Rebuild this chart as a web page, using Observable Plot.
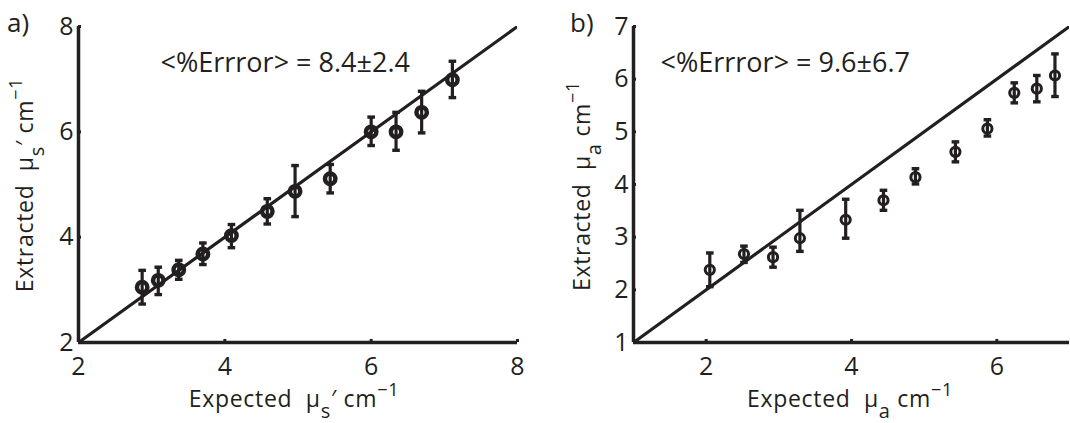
<!DOCTYPE html>
<html>
<head>
<meta charset="utf-8">
<script src="https://cdn.jsdelivr.net/npm/d3@7"></script>
<script src="https://cdn.jsdelivr.net/npm/@observablehq/plot@0.6"></script>
<style>
  html, body { margin: 0; padding: 0; background: #fff; }
  #wrap { display: flex; flex-direction: row; width: 1070px; height: 423px; overflow: hidden; }
  svg { font-family: "Open Sans", sans-serif; color: #231f20; }
</style>
</head>
<body>
<div id="wrap"></div>
<script>
// ---------- Panel a) reduced scattering ----------
const expectedMus = [2.87, 3.09, 3.37, 3.70, 4.09, 4.58, 4.96, 5.44, 6.00, 6.34, 6.69, 7.11];
const extractedMus = [3.05, 3.18, 3.38, 3.68, 4.03, 4.49, 4.87, 5.11, 6.00, 6.00, 6.37, 6.99];
const extractedMusLow = [2.73, 2.91, 3.20, 3.48, 3.80, 4.25, 4.39, 4.84, 5.74, 5.65, 5.98, 6.65];
const extractedMusHigh = [3.37, 3.43, 3.56, 3.89, 4.24, 4.73, 5.36, 5.38, 6.28, 6.37, 6.77, 7.34];
const musDomain = [2, 8];
const musTicks = [2, 4, 6, 8];
const musAnnotation = "<%Errror> = 8.4\u00b12.4";

// ---------- Panel b) absorption ----------
const expectedMua = [2.05, 2.52, 2.92, 3.29, 3.92, 4.44, 4.88, 5.43, 5.87, 6.24, 6.55, 6.80];
const extractedMua = [2.38, 2.68, 2.62, 2.98, 3.33, 3.70, 4.14, 4.62, 5.06, 5.74, 5.82, 6.07];
const extractedMuaLow = [2.06, 2.52, 2.43, 2.73, 2.98, 3.51, 4.01, 4.43, 4.92, 5.55, 5.57, 5.67];
const extractedMuaHigh = [2.70, 2.83, 2.81, 3.51, 3.72, 3.89, 4.30, 4.81, 5.23, 5.93, 6.07, 6.48];
const muaDomain = [1, 7];
const muaXTicks = [2, 4, 6];
const muaYTicks = [1, 2, 3, 4, 5, 6, 7];
const muaAnnotation = "<%Errror> = 9.6\u00b16.7";

const INK = "#231f20";
const FONT = "'Open Sans', sans-serif";

// horizontal cap symbol for error bars
const capSymbol = {
  draw(context, size) {
    const w = Math.sqrt(size / Math.PI);
    context.moveTo(-w, 0);
    context.lineTo(w, 0);
  }
};

function rows(xs, ys, lo, hi) {
  return xs.map((x, i) => ({x, y: ys[i], lo: lo[i], hi: hi[i]}));
}

function panel({data, xDomain, yDomain, xTicks, yTicks, annotation, width, marginLeft, marginRight, annDx, r, sw}) {
  const identity = [xDomain[0], xDomain[1]];
  return Plot.plot({
    width, height: 423,
    marginLeft, marginRight, marginTop: 26, marginBottom: 81,
    style: {fontFamily: FONT, color: INK, overflow: "visible"},
    x: {domain: xDomain},
    y: {domain: yDomain},
    marks: [
      Plot.line(identity, {x: d => d, y: d => d, stroke: INK, strokeWidth: 3.2, clip: true}),
      Plot.ruleX(data, {x: "x", y1: "lo", y2: "hi", stroke: INK, strokeWidth: 3.2}),
      Plot.dot(data, {x: "x", y: "lo", symbol: capSymbol, r: 3.8, stroke: INK, strokeWidth: 3.4}),
      Plot.dot(data, {x: "x", y: "hi", symbol: capSymbol, r: 3.8, stroke: INK, strokeWidth: 3.4}),
      Plot.dot(data, {x: "x", y: "y", r, fill: "none", stroke: INK, strokeWidth: sw}),
      Plot.ruleX([xDomain[0]], {y1: yDomain[0], y2: yDomain[1], stroke: INK, strokeWidth: 3.5}),
      Plot.ruleY([yDomain[0]], {x1: xDomain[0], x2: xDomain[1], stroke: INK, strokeWidth: 3.5}),
      Plot.axisX({ticks: xTicks, tickFormat: d => d, tickSize: -3, tickPadding: 18, strokeWidth: 3, stroke: INK, fill: INK, fontSize: 25, label: null}),
      Plot.axisY({ticks: yTicks, tickFormat: d => d, tickSize: -3, tickPadding: 8, strokeWidth: 3, stroke: INK, fill: INK, fontSize: 25, label: null}),
      Plot.text([annotation], {text: d => d, frameAnchor: "top-left", textAnchor: "start", lineAnchor: "middle", dx: annDx, dy: 37, fontSize: 27, fill: INK, style: "letter-spacing:1.9px"})
    ]
  });
}

function addLabels(svg, {tag, tagX, xLabel, yLabel, yLabelX, xCenter, yCenter}) {
  const s = d3.select(svg);
  s.append("text").attr("x", tagX).attr("y", 32).attr("font-size", 26).attr("fill", INK)
    .attr("text-anchor", "start").attr("font-family", FONT).text(tag);
  // x label
  const xt = s.append("text").attr("x", xCenter).attr("y", 407).attr("text-anchor", "middle")
    .attr("font-size", 23).attr("fill", INK).attr("font-family", FONT).style("letter-spacing", "0.7px");
  buildLabel(xt, xLabel);
  // y label
  const yt = s.append("text").attr("transform", `translate(${yLabelX},${yCenter}) rotate(-90)`)
    .attr("text-anchor", "middle").attr("font-size", 23).attr("fill", INK)
    .attr("font-family", FONT).style("letter-spacing", "0.7px");
  buildLabel(yt, yLabel);
}

function buildLabel(t, parts) {
  let shift = 0;
  for (const p of parts) {
    const ts = t.append("tspan").text(p.text);
    const target = p.sub ? 11 : p.sup ? -11 : 0;
    if (target !== shift) { ts.attr("dy", target - shift); shift = target; }
    if (p.sub || p.sup) ts.attr("font-size", p.sub ? 20 : 18);
  }
}

const wrap = document.getElementById("wrap");

const left = panel({
  data: rows(expectedMus, extractedMus, extractedMusLow, extractedMusHigh),
  xDomain: musDomain, yDomain: musDomain, xTicks: musTicks, yTicks: musTicks,
  annotation: musAnnotation, width: 540, marginLeft: 78, marginRight: 23, annDx: 82, r: 5.2, sw: 4.5
});
addLabels(left, {
  tag: "a)", tagX: 7,
  xLabel: [{text: "Expected  \u03bc"}, {text: "s", sub: true}, {text: "\u2032 cm"}, {text: "\u22121", sup: true}],
  yLabel: [{text: "Extracted  \u03bc"}, {text: "s", sub: true}, {text: "\u2032 cm"}, {text: "\u22121", sup: true}],
  yLabelX: 33, xCenter: 294, yCenter: 185
});
wrap.appendChild(left);

const right = panel({
  data: rows(expectedMua, extractedMua, extractedMuaLow, extractedMuaHigh),
  xDomain: muaDomain, yDomain: muaDomain, xTicks: muaXTicks, yTicks: muaYTicks,
  annotation: muaAnnotation, width: 530, marginLeft: 93, marginRight: 1, annDx: 27, r: 4.6, sw: 3
});
addLabels(right, {
  tag: "b)", tagX: 30,
  xLabel: [{text: "Expected  \u03bc"}, {text: "a", sub: true}, {text: " cm"}, {text: "\u22121", sup: true}],
  yLabel: [{text: "Extracted  \u03bc"}, {text: "a", sub: true}, {text: " cm"}, {text: "\u22121", sup: true}],
  yLabelX: 50, xCenter: 310, yCenter: 186
});
wrap.appendChild(right);
</script>
</body>
</html>
